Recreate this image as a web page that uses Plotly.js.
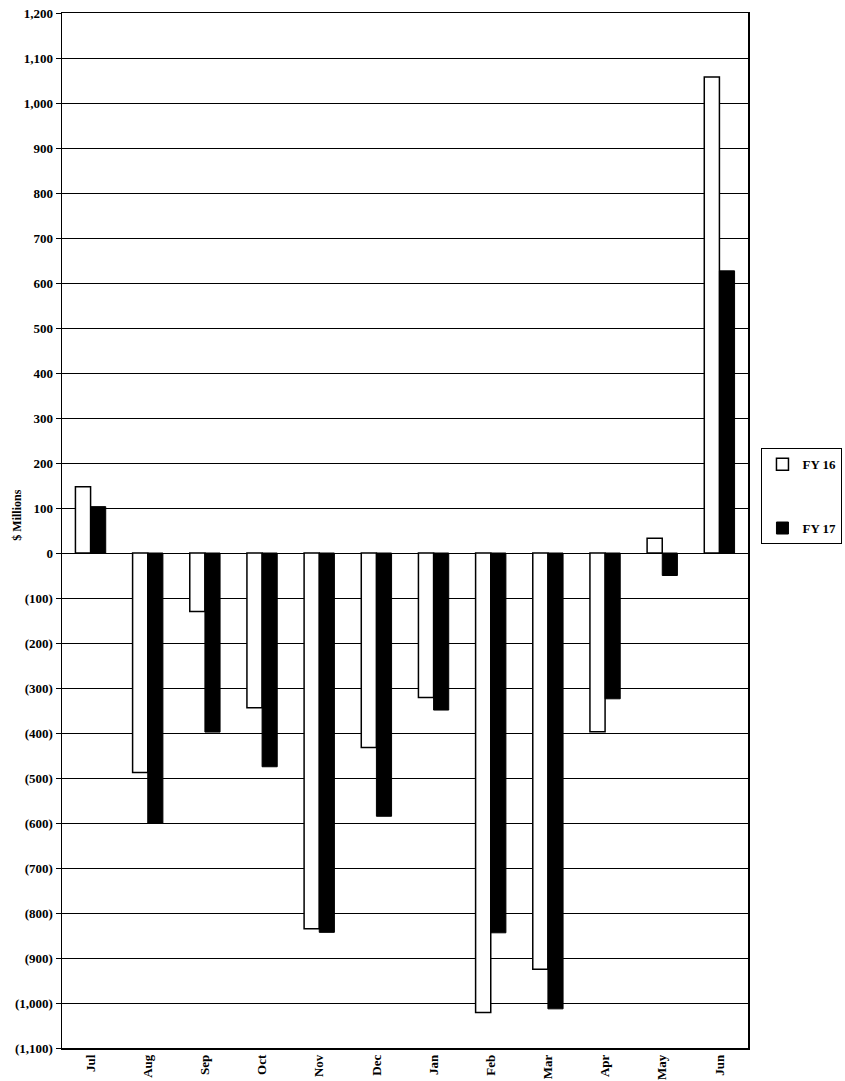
<!DOCTYPE html>
<html>
<head>
<meta charset="utf-8">
<script src="https://cdn.plot.ly/plotly-3.0.1.min.js"></script>
<style>html,body{margin:0;padding:0;background:#fff;}#chart{width:845px;height:1081px;}</style>
</head>
<body>
<div id="chart"></div>
<script>
var months = ["Jul","Aug","Sep","Oct","Nov","Dec","Jan","Feb","Mar","Apr","May","Jun"];
var fy16 = [147, -488, -130, -344, -835, -432, -321, -1021, -925, -397, 33, 1058];
var fy17 = [103, -600, -398, -475, -843, -585, -349, -844, -1013, -324, -50, 627];
var tickValues = [1200,1100,1000,900,800,700,600,500,400,300,200,100,0,-100,-200,-300,-400,-500,-600,-700,-800,-900,-1000,-1100];
var tickLabels = ["1,200","1,100","1,000","900","800","700","600","500","400","300","200","100","0","(100)","(200)","(300)","(400)","(500)","(600)","(700)","(800)","(900)","(1,000)","(1,100)"];

var fontFam = "Liberation Serif, Times New Roman, serif";

var traces = [
  {type:"bar", name:"FY 16", x:months, y:fy16, legendgroup:"a",
   marker:{color:"#ffffff", line:{color:"#000000", width:1.5}}},
  {type:"bar", name:"FY 17", x:months, y:fy17, legendgroup:"b",
   marker:{color:"#000000", line:{color:"#000000", width:1}}}
];

var layout = {
  width:845, height:1081,
  margin:{l:62, r:97, t:13, b:33, autoexpand:false},
  paper_bgcolor:"#ffffff", plot_bgcolor:"#ffffff",
  barmode:"group", bargap:0.47, bargroupgap:0,
  font:{family:fontFam, size:13, color:"#000000", weight:"bold"},
  showlegend:true,
  legend:{xref:"container", yref:"container", x:0.997, xanchor:"right", y:0.541, yanchor:"middle",
    bordercolor:"#000000", borderwidth:1, bgcolor:"#ffffff",
    font:{family:fontFam, size:13, color:"#000000", weight:"bold"},
    traceorder:"grouped", tracegroupgap:44, itemwidth:30},
  xaxis:{type:"category", tickangle:-90, showgrid:false, ticks:"",
    showline:true, linecolor:"#000000", linewidth:1.5, mirror:true,
    tickfont:{family:fontFam, size:13, color:"#000000", weight:"bold"}, zeroline:false},
  yaxis:{range:[-1100,1200], tickvals:tickValues, ticktext:tickLabels,
    showgrid:true, gridcolor:"#000000", gridwidth:1,
    zeroline:true, zerolinecolor:"#000000", zerolinewidth:1,
    showline:true, linecolor:"#000000", linewidth:1.5, mirror:true,
    ticks:"outside", ticklen:5, tickcolor:"#000000",
    tickfont:{family:fontFam, size:13, color:"#000000", weight:"bold"}},
  annotations:[{text:"$ Millions", xref:"paper", yref:"paper", x:-0.066, y:0.515,
    xanchor:"center", yanchor:"middle", textangle:-90, showarrow:false,
    font:{family:fontFam, size:12, color:"#000000", weight:"bold"}}]
};

Plotly.newPlot("chart", traces, layout, {displayModeBar:false, staticPlot:true});
</script>
</body>
</html>
